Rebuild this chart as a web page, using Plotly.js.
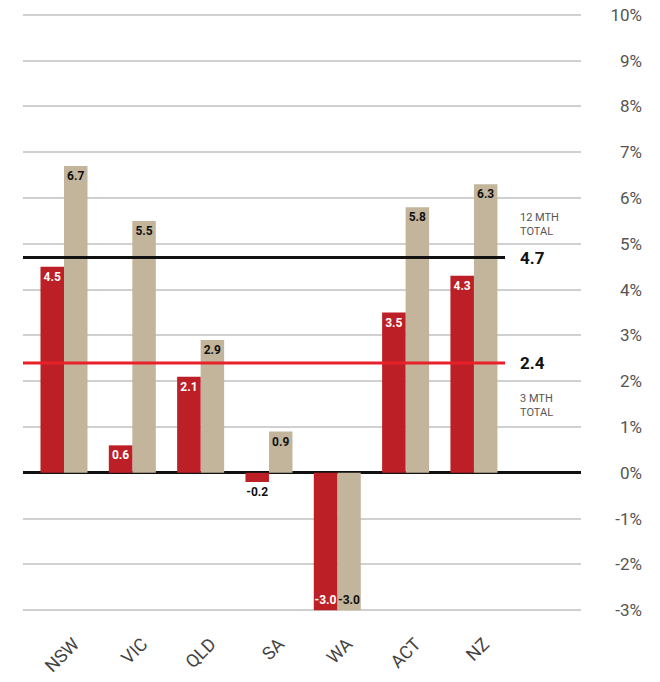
<!DOCTYPE html>
<html>
<head>
<meta charset="utf-8">
<script src="https://cdn.plot.ly/plotly-3.0.1.min.js"></script>
<style>html,body{margin:0;padding:0;background:#fff;}#chart{width:660px;height:682px;}</style>
</head>
<body>
<div id="chart"></div>
<script>
var categories = ["NSW", "VIC", "QLD", "SA", "WA", "ACT", "NZ"];
var threeMonth = [4.5, 0.6, 2.1, -0.2, -3.0, 3.5, 4.3];
var twelveMonth = [6.7, 5.5, 2.9, 0.9, -3.0, 5.8, 6.3];
var totals = {twelve: 4.7, three: 2.4};
var totalLabels = ["12 MTH<br>TOTAL", "3 MTH<br>TOTAL"];
var yTicks = [-3, -2, -1, 0, 1, 2, 3, 4, 5, 6, 7, 8, 9, 10];

var RED = "#bd1f26", TAN = "#c2b59b";
var fontFam = "Roboto, 'DejaVu Sans', sans-serif";
var BW = 0.344;

function fmt(v){ return v.toFixed(1); }

var trRed = {
  type: "bar", x: categories, y: threeMonth,
  width: BW, offset: -BW,
  marker: {color: RED, line: {width: 0}},
  text: threeMonth.map(fmt),
  textposition: threeMonth.map(function(v){ return (v < 0 && v > -1) ? "outside" : "inside"; }),
  insidetextanchor: "end",
  textangle: 0,
  constraintext: "none",
  cliponaxis: false,
  textfont: {family: fontFam, size: 12, weight: 700, color: threeMonth.map(function(v){ return (v < 0 && v > -1) ? "#111" : "#fff"; })},
  hoverinfo: "skip", showlegend: false
};
var trTan = {
  type: "bar", x: categories, y: twelveMonth,
  width: BW, offset: 0,
  marker: {color: TAN, line: {width: 0}},
  text: twelveMonth.map(fmt),
  textposition: "inside",
  insidetextanchor: "end",
  textangle: 0,
  constraintext: "none",
  cliponaxis: false,
  textfont: {family: fontFam, size: 12, weight: 700, color: "#111"},
  hoverinfo: "skip", showlegend: false
};
var trAxis = {
  type: "scatter", x: [categories[0]], y: [0], yaxis: "y2",
  mode: "markers", marker: {opacity: 0}, hoverinfo: "skip", showlegend: false
};

var xLineEnd = 0.775, xLab = 0.796;
var yRange = [-3.3, 10.3];

var layout = {
  width: 660, height: 682,
  margin: {l: 23, r: 15, t: 1, b: 58},
  paper_bgcolor: "#fff", plot_bgcolor: "#fff",
  barmode: "overlay",
  font: {family: fontFam, color: "#444"},
  xaxis: {
    domain: [0, 0.897],
    type: "category",
    range: [-0.6, 7.566],
    showgrid: false, zeroline: false, showline: false,
    ticks: "", tickangle: -45,
    tickfont: {family: fontFam, size: 18, color: "#444"},
    ticklabelstandoff: 5, ticklabelshift: 10
  },
  yaxis: {
    range: yRange,
    tickvals: yTicks,
    showticklabels: false,
    showgrid: true, gridcolor: "#d0d0d0", gridwidth: 2,
    zeroline: true, zerolinecolor: "#111", zerolinewidth: 3,
    showline: false, ticks: ""
  },
  yaxis2: {
    overlaying: "y", anchor: "free", position: 1, side: "right",
    range: yRange,
    tickvals: yTicks, ticktext: yTicks.map(function(v){ return v + "%"; }),
    ticklabelposition: "inside",
    showgrid: false, zeroline: false, showline: false, ticks: "",
    tickfont: {family: fontFam, size: 17, color: "#555"}
  },
  shapes: [
    {type: "line", xref: "paper", yref: "y", x0: 0, x1: xLineEnd, y0: totals.twelve, y1: totals.twelve, line: {color: "#111", width: 3}},
    {type: "line", xref: "paper", yref: "y", x0: 0, x1: xLineEnd, y0: totals.three, y1: totals.three, line: {color: "#e8202a", width: 3}}
  ],
  annotations: [
    {xref: "paper", yref: "y", x: xLab, y: totals.twelve, xanchor: "left", yanchor: "middle", showarrow: false,
     text: "<b>" + fmt(totals.twelve) + "</b>", font: {family: fontFam, size: 17, color: "#111"}},
    {xref: "paper", yref: "y", x: xLab, y: 5.42, xanchor: "left", yanchor: "middle", showarrow: false, align: "left",
     text: totalLabels[0], font: {family: fontFam, size: 11, color: "#555"}},
    {xref: "paper", yref: "y", x: xLab, y: totals.three, xanchor: "left", yanchor: "middle", showarrow: false,
     text: "<b>" + fmt(totals.three) + "</b>", font: {family: fontFam, size: 17, color: "#111"}},
    {xref: "paper", yref: "y", x: xLab, y: 1.48, xanchor: "left", yanchor: "middle", showarrow: false, align: "left",
     text: totalLabels[1], font: {family: fontFam, size: 11, color: "#555"}}
  ]
};

Plotly.newPlot("chart", [trTan, trRed, trAxis], layout, {displayModeBar: false, staticPlot: true});
</script>
</body>
</html>
